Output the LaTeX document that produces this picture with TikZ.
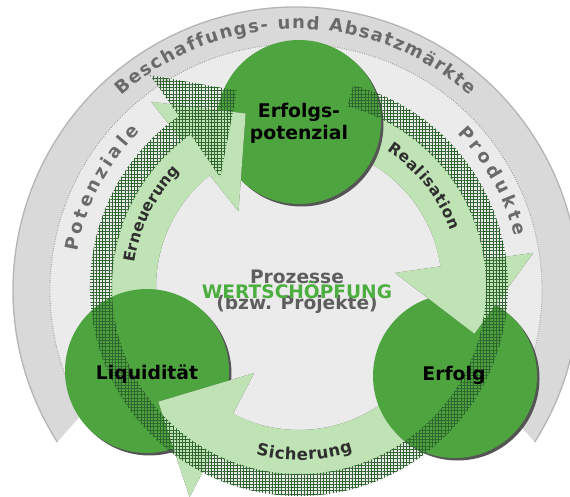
\documentclass[tikz,border=0pt]{standalone}
\usepackage{fontspec}
\setmainfont{DejaVu Sans}
\usetikzlibrary{decorations.text,patterns.meta}
\definecolor{bandgray}{HTML}{D9D9D9}
\definecolor{bandedge}{HTML}{B4B4B4}
\definecolor{innergray}{HTML}{EBEBEB}
\definecolor{dotgray}{HTML}{9A9A9A}
\definecolor{ballgreen}{HTML}{4EA540}
\definecolor{lightgreen}{HTML}{BFE3B4}
\definecolor{shadowgray}{HTML}{555555}
\definecolor{hatchgreen}{HTML}{2F652F}
\definecolor{bandtext}{HTML}{6A6A6A}
\definecolor{midtext}{HTML}{5E5E5E}
\definecolor{wsgreen}{HTML}{4CAE3F}
\definecolor{arrowtext}{HTML}{2E2E2E}
\newcommand{\ringpart}[5]{([shift={(#2:#5)}]#1) arc[start angle=#2, end angle=#3, radius=#5] -- ([shift={(#3:#4)}]#1) arc[start angle=#3, end angle=#2, radius=#4] -- cycle}
\newcommand{\headtri}[3]{([shift={(#2:97)}]#1) -- ([shift={(#2:237)}]#1) -- ([shift={(#3:181.5)}]#1) -- cycle}
\newcommand{\bandfont}{\fontsize{18}{20}\selectfont\bfseries\color{bandtext}}
\newcommand{\arrfont}{\fontsize{15.5}{17}\selectfont\bfseries\color{arrowtext}}
\begin{document}
\begin{tikzpicture}[x=1pt,y=-1pt,
  ball/.style={circle, fill=ballgreen, minimum size=164pt, inner sep=0pt},
  ballshadow/.style={circle, fill=shadowgray, minimum size=164pt, inner sep=0pt},
  lbl/.style={font=\fontsize{18.8}{22}\selectfont\bfseries, text=black, inner sep=0pt, anchor=base},
  ctext/.style={font=\fontsize{18.6}{20}\selectfont\bfseries, inner sep=0pt, anchor=base},
  hatchfill/.style={pattern={Hatch[angle=0,distance=3.2pt,line width=0.45pt]}, pattern color=hatchgreen},
]
\useasboundingbox (0,0) rectangle (570,497);
\clip (0,0) rectangle (570,497);
\coordinate (O) at (296,290);
\coordinate (C) at (299,287);
% outer band and inner area
\fill[bandgray] ([shift={(147.5:283)}]O) arc[start angle=147.5,end angle=392.5,radius=283] -- ([shift={(390:246)}]O) arc[start angle=390,end angle=150,radius=246] -- cycle;
\fill[innergray] (O) -- ([shift={(150:246)}]O) arc[start angle=150,end angle=390,radius=246] -- cycle;
\fill[innergray] (C) circle[radius=209];
\draw[dotgray,line width=0.9pt,dash pattern=on 0.9pt off 1.4pt] ([shift={(150:246)}]O) arc[start angle=150,end angle=390,radius=246];
\draw[bandedge,line width=1.3pt] ([shift={(147.5:283)}]O) arc[start angle=147.5,end angle=392.5,radius=283];
% arrow bodies
\begin{scope}[xshift=2.5pt,yshift=-2.5pt]
\fill[shadowgray] \ringpart{C}{160}{231.4}{143}{188};
\fill[shadowgray] \ringpart{C}{280}{351.7}{143}{188};
\fill[shadowgray] \ringpart{C}{35}{117.5}{143}{188};
\end{scope}
\fill[lightgreen] \ringpart{C}{160}{231.4}{143}{188};
\fill[lightgreen] \ringpart{C}{280}{351.7}{143}{188};
\fill[lightgreen] \ringpart{C}{35}{117.5}{143}{188};
% circles
\node[ballshadow] (EPs) at (301.5,124.5) {};
\node[ballshadow] (LQs) at (149.5,373.5) {};
\node[ballshadow] (EFs) at (457.5,378.5) {};
\node[ball] (EP) at (299,122) {};
\node[ball] (LQ) at (147,371) {};
\node[ball] (EF) at (455,376) {};
% arrow heads
\begin{scope}[xshift=2.5pt,yshift=-2.5pt]
\fill[shadowgray] \headtri{C}{231.4}{252.9};
\fill[shadowgray] \headtri{C}{351.7}{374.9};
\fill[shadowgray] \headtri{C}{117.5}{140.8};
\end{scope}
\fill[lightgreen] \headtri{C}{231.4}{252.9};
\fill[lightgreen] \ringpart{C}{220}{231.6}{143}{188};
\fill[lightgreen] \headtri{C}{351.7}{374.9};
\fill[lightgreen] \ringpart{C}{340}{351.9}{143}{188};
\fill[lightgreen] \headtri{C}{117.5}{140.8};
\fill[lightgreen] \ringpart{C}{105}{117.7}{143}{188};
% hatched shadow ring with arrow head
\path[hatchfill] ([shift={(285:209)}]C) arc[start angle=285,end angle=594.9,radius=209] -- ([shift={(594.9:259)}]C) -- ([shift={(612.5:206)}]C) -- ([shift={(594.3:135)}]C) -- ([shift={(594.6:187)}]C) arc[start angle=594.6,end angle=285,radius=187] -- cycle;
% band texts
\path[decorate,decoration={text along path,text={|\bandfont|Beschaffungs- und Absatzmärkte},text align={fit to path}}] ([shift={(228.2:261)}]O) arc[start angle=228.2,end angle=311.8,radius=261];
\path[decorate,decoration={text along path,text={|\bandfont|Potenziale},text align={fit to path}}] ([shift={(189.9:222)}]O) arc[start angle=189.9,end angle=225.4,radius=222];
\path[decorate,decoration={text along path,text={|\bandfont|Produkte},text align={fit to path}}] ([shift={(315.8:225)}]O) arc[start angle=315.8,end angle=346.3,radius=225];
% arrow texts
\path[decorate,decoration={text along path,text={|\arrfont|Erneuerung},text align={fit to path}}] ([shift={(188.4:166)}]C) arc[start angle=188.4,end angle=224.1,radius=166];
\path[decorate,decoration={text along path,text={|\arrfont|Realisation},text align={fit to path}}] ([shift={(302.8:162)}]C) arc[start angle=302.8,end angle=339.7,radius=162];
\path[decorate,decoration={text along path,text={|\arrfont\fontsize{16.5}{18}\selectfont|Sicherung},text align={fit to path}}] ([shift={(104.4:173)}]C) arc[start angle=104.4,end angle=71.8,radius=173];
% centre texts
\node[ctext,text=midtext] (pz) at (297,283.3) {Prozesse};
\node[ctext,text=midtext] (bp) at (297,309) {(bzw. Projekte)};
\node[ctext,text=wsgreen] (ws) at (297,298.3) {WERTSCHÖPFUNG};
% circle labels
\node[lbl] (t1) at (299,118) {Erfolgs-};
\node[lbl] (t2) at (299,140) {potenzial};
\node[lbl] (t3) at (147,379) {Liquidität};
\node[lbl] (t4) at (454,380) {Erfolg};
\end{tikzpicture}
\end{document}
